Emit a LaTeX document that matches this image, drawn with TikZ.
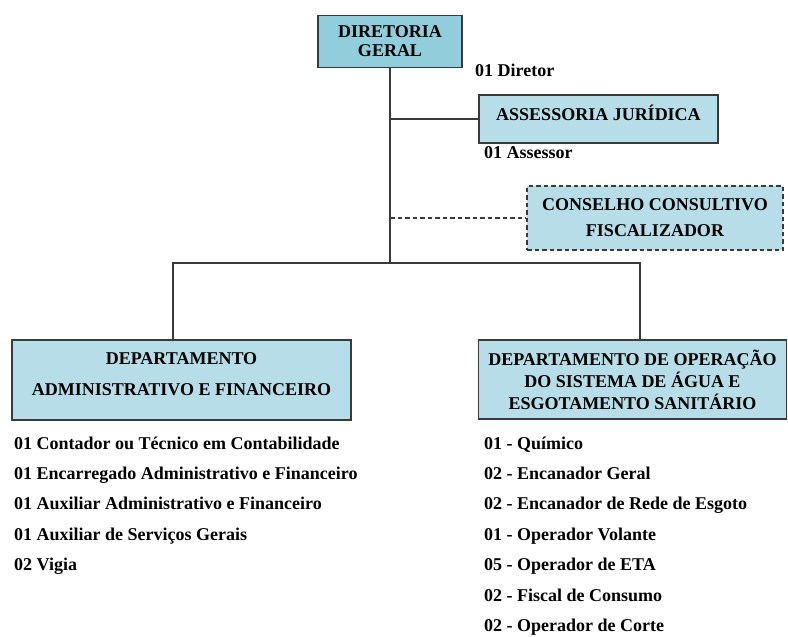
\documentclass[tikz,border=0pt]{standalone}
\usepackage{fontspec}
\setmainfont{Liberation Serif}
\usepackage{xcolor}
\usetikzlibrary{positioning,calc}
\definecolor{boxdark}{HTML}{92CDDC}
\definecolor{boxlight}{HTML}{B7DEE8}
\definecolor{edge}{HTML}{3A3A3A}
\tikzset{
  unitbox/.style={draw=edge, line width=1.2pt, fill=boxlight, align=center,
    inner sep=0pt, font=\bfseries\fontsize{18}{19}\selectfont},
  staff/.style={anchor=base west, inner sep=0pt, font=\bfseries\fontsize{18}{18}\selectfont},
  link/.style={draw=edge, line width=1.2pt},
  dashedline/.style={dash pattern=on 4.5pt off 3pt}
}
\begin{document}
\begin{tikzpicture}[x=1pt, y=-1pt]
  \useasboundingbox (0,0) rectangle (788,637);
  % Directorate
  \node[unitbox, fill=boxdark, minimum width=144, minimum height=52] (dir) at (390,41.5) {DIRETORIA\\GERAL};
  \node[staff] (dirstaff) at (475,76) {01 Diretor};
  % Legal advice
  \node[unitbox, minimum width=239, minimum height=48, text depth=13pt] (ass) at (598.5,119) {ASSESSORIA JURÍDICA};
  \node[staff] (assstaff) at (484,158) {01 Assessor};
  % Council
  \node[unitbox, dashedline, minimum width=256, minimum height=64, font=\bfseries\fontsize{18}{26}\selectfont] (con) at (655,218) {CONSELHO CONSULTIVO\\FISCALIZADOR};
  % Departments
  \node[unitbox, minimum width=339, minimum height=80, text depth=11pt, font=\bfseries\fontsize{18}{31}\selectfont] (adm) at (181.5,380) {DEPARTAMENTO\\ADMINISTRATIVO E FINANCEIRO};
  \node[unitbox, minimum width=308, minimum height=79, font=\bfseries\fontsize{18}{22}\selectfont] (ope) at (632.5,379.5) {DEPARTAMENTO DE OPERAÇÃO\\DO SISTEMA DE ÁGUA E\\ESGOTAMENTO SANITÁRIO};
  % Connectors
  \coordinate (jl) at (173,263);
  \coordinate (jr) at (640,263);
  \draw[link] (dir.south) -- (dir.south |- jl);
  \draw[link] (dir.south |- ass.west) -- (ass.west);
  \draw[link, dashedline] (dir.south |- con.west) -- (con.west);
  \draw[link] (jl |- adm.north) -- (jl) -- (jr) -- (jr |- ope.north);
  % Staff lists
  \foreach \i/\job in {1/01 Contador ou Técnico em Contabilidade,
      2/01 Encarregado Administrativo e Financeiro,
      3/01 Auxiliar Administrativo e Financeiro,
      4/01 Auxiliar de Serviços Gerais,
      5/02 Vigia}
    \node[staff] (admstaff\i) at (14,418.6+30.4*\i) {\job};
  \foreach \i/\job in {1/01 - Químico,
      2/02 - Encanador Geral,
      3/02 - Encanador de Rede de Esgoto,
      4/01 - Operador Volante,
      5/05 - Operador de ETA,
      6/02 - Fiscal de Consumo,
      7/02 - Operador de Corte}
    \node[staff] (opestaff\i) at (484,418.6+30.4*\i) {\job};
\end{tikzpicture}
\end{document}
